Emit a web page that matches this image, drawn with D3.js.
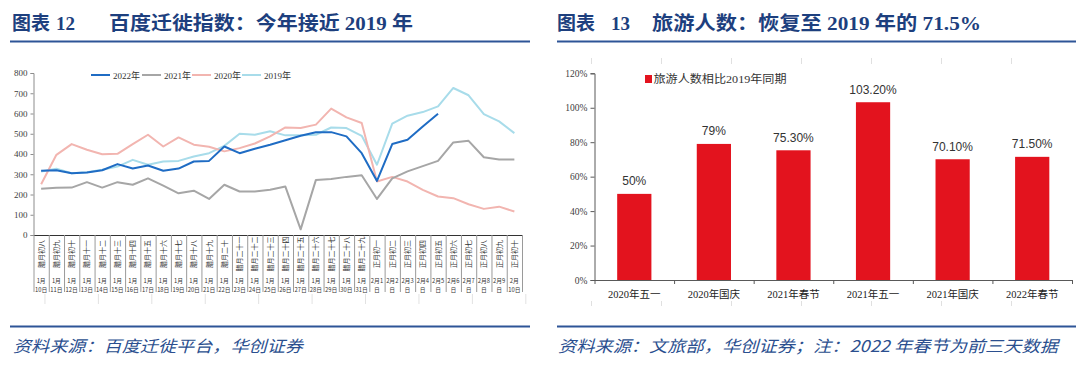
<!DOCTYPE html>
<html><head><meta charset="utf-8">
<script src="https://cdn.jsdelivr.net/npm/d3@7"></script>
<style>body{margin:0;background:#fff}svg{display:block}</style>
</head><body><svg id="c" width="1080" height="381"></svg>
<script>
// ---------- data: left chart ----------
const dates = ["1月10日","1月11日","1月12日","1月13日","1月14日","1月15日","1月16日","1月17日","1月18日","1月19日","1月20日","1月21日","1月22日","1月23日","1月24日","1月25日","1月26日","1月27日","1月28日","1月29日","1月30日","1月31日","2月1日","2月2日","2月3日","2月4日","2月5日","2月6日","2月7日","2月8日","2月9日","2月10日"];
const lunar = ["腊月初八","腊月初九","腊月初十","腊月十一","腊月十二","腊月十三","腊月十四","腊月十五","腊月十六","腊月十七","腊月十八","腊月十九","腊月二十","腊月二十一","腊月二十二","腊月二十三","腊月二十四","腊月二十五","腊月二十六","腊月二十七","腊月二十八","腊月二十九","正月初一","正月初二","正月初三","正月初四","正月初五","正月初六","正月初七","正月初八","正月初九","正月初十"];
const seriesNames = ["2022年","2021年","2020年","2019年"];
const v2022 = [317,320,305,309,320,350,328,343,317,328,363,366,437,404,426,446,468,490,507,508,487,404,267,449,470,536,599,null,null,null,null,null];
const v2021 = [228,233,234,261,234,261,248,280,244,206,219,178,248,215,215,223,239,28,272,276,287,295,178,280,314,340,366,457,465,384,373,373];
const v2020 = [251,396,449,421,399,401,449,495,437,482,446,436,413,429,452,487,531,528,545,624,581,553,264,287,264,223,190,182,152,129,140,116];
const v2019 = [314,327,305,310,322,338,371,347,363,366,388,404,440,500,495,512,492,492,495,531,528,490,347,550,589,607,635,726,690,597,561,503];
const yTicksL = [0,100,200,300,400,500,600,700,800];

// ---------- data: right chart ----------
const cats = ["2020年五一","2020年国庆","2021年春节","2021年五一","2021年国庆","2022年春节"];
const ratio = [0.50,0.79,0.753,1.032,0.701,0.715];
const ratioLabels = ["50%","79%","75.30%","103.20%","70.10%","71.50%"];
const yTicksR = [0,0.2,0.4,0.6,0.8,1.0,1.2];
const legendR = "旅游人数相比2019年同期";

const svg = d3.select("#c");
const serif = "'Liberation Serif','Noto Sans CJK SC',serif";
const cjk = "'Noto Sans CJK SC',sans-serif";
const navy = "#1d3f7e";

// ---------- titles & rules ----------
function title(x0, num, xNum, rest, xRest, restLen){
  const t = svg.append("text").attr("y",29.5).attr("fill",navy).attr("font-weight","bold").attr("font-family",serif).attr("font-size",19);
  t.append("tspan").attr("x",x0).text("图表");
  t.append("tspan").attr("x",xNum).text(num);
  t.append("tspan").attr("x",xRest).attr("textLength",restLen).attr("lengthAdjust","spacingAndGlyphs").text(rest);
}
title(12,"12",56,"百度迁徙指数：今年接近 2019 年",109,304);
title(557,"13",611,"旅游人数：恢复至 2019 年的 71.5%",652,329);
[[10,530],[557,1076]].forEach(([a,b])=>{
  svg.append("line").attr("x1",a).attr("x2",b).attr("y1",41.5).attr("y2",41.5).attr("stroke","#2e5597").attr("stroke-width",2);
  svg.append("line").attr("x1",a).attr("x2",b).attr("y1",326.5).attr("y2",326.5).attr("stroke","#2e5597").attr("stroke-width",2);
});
svg.append("text").attr("x",13).attr("y",352).attr("fill","#2b4f8f").attr("font-style","italic").attr("font-family",cjk).attr("font-size",16)
  .attr("textLength",290).attr("lengthAdjust","spacingAndGlyphs").text("资料来源：百度迁徙平台，华创证券");
svg.append("text").attr("x",558).attr("y",352).attr("fill","#2b4f8f").attr("font-style","italic").attr("font-family",cjk).attr("font-size",16)
  .attr("textLength",500).attr("lengthAdjust","spacingAndGlyphs").text("资料来源：文旅部，华创证券；注：2022 年春节为前三天数据");

// ---------- left line chart ----------
const L = {x0:33.5, x1:522, y0:235, y1:73};
const xL = d3.scaleBand().domain(d3.range(dates.length)).range([L.x0,L.x1]);
const xB = d3.scaleLinear().domain([0,dates.length]).range([L.x0,L.x1]);
const yL = d3.scaleLinear().domain([0,800]).range([L.y0,L.y1]);

const gyL = svg.append("g").attr("transform",`translate(${L.x0},0)`)
  .call(d3.axisLeft(yL).tickValues(yTicksL).tickSize(3).tickPadding(3).tickFormat(d3.format("d")));
gyL.select(".domain").attr("stroke","#8c8c8c");
gyL.selectAll(".tick line").attr("stroke","#8c8c8c");
gyL.selectAll("text").attr("font-family",serif).attr("font-size",9).attr("fill","#404040");

const gxL = svg.append("g").attr("transform",`translate(0,${L.y0})`)
  .call(d3.axisBottom(xB).tickValues(d3.range(dates.length+1)).tickSize(57).tickSizeOuter(0).tickFormat(""));
gxL.select(".domain").attr("stroke","#333").attr("stroke-width",1);
gxL.selectAll(".tick line").attr("stroke","#9a9a9a");

// faint second-level marks
svg.append("g").selectAll("line").data(d3.range(10)).join("line")
  .attr("x1",d=>xB(0.75+3.5*d)).attr("x2",d=>xB(0.75+3.5*d)).attr("y1",294).attr("y2",304)
  .attr("stroke","#e2e2e2");

const bw = xL.bandwidth();
const lab = svg.append("g").selectAll("g").data(dates).join("g")
  .attr("transform",(d,i)=>`translate(${xL(i)+bw/2},0)`);
lab.append("text").attr("transform","translate(2.5,254) rotate(-90)").attr("text-anchor","middle")
  .attr("font-family",cjk).attr("font-size",7).attr("fill","#333").text((d,i)=>lunar[i]);
lab.each(function(d){
  const m = d.match(/^(\d+月)(\d+)日$/);
  let l1, l2;
  if (m[1]==="1月" || m[2].length>1){ l1=m[1]; l2=m[2]+"日"; } else { l1=m[1]+m[2]; l2="日"; }
  const g = d3.select(this);
  g.append("text").attr("y",283).attr("text-anchor","middle").attr("font-family",cjk).attr("font-size",5.8).attr("fill","#333").text(l1);
  g.append("text").attr("y",291.6).attr("text-anchor","middle").attr("font-family",cjk).attr("font-size",5.8).attr("fill","#333").text(l2);
});

const seriesL = [
  {name:seriesNames[0], vals:v2022, color:"#1f6cc4"},
  {name:seriesNames[1], vals:v2021, color:"#a6a6a6"},
  {name:seriesNames[2], vals:v2020, color:"#f2b5b0"},
  {name:seriesNames[3], vals:v2019, color:"#a8dcea"}
];
const line = d3.line().defined(d=>d!=null).x((d,i)=>xL(i)+bw/2).y(d=>yL(d));
[3,2,1,0].forEach(k=>{
  svg.append("path").datum(seriesL[k].vals).attr("d",line).attr("fill","none")
    .attr("stroke",seriesL[k].color).attr("stroke-width",2).attr("stroke-linejoin","round");
});
const legX = [91,142,192,242];
seriesL.forEach((s,k)=>{
  svg.append("line").attr("x1",legX[k]).attr("x2",legX[k]+19).attr("y1",75).attr("y2",75).attr("stroke",s.color).attr("stroke-width",2);
  svg.append("text").attr("x",legX[k]+22).attr("y",78.5).attr("font-family",serif).attr("font-size",9).attr("fill","#333").text(s.name);
});

// ---------- right bar chart ----------
const R = {x0:594.5, x1:1072, y0:280, y1:73.3};
const xR = d3.scaleBand().domain(cats).range([R.x0,R.x1]).paddingInner(0.57).paddingOuter(0.285);
const yR = d3.scaleLinear().domain([0,1.2]).range([R.y0,R.y1]);

// faint frame marks
svg.append("g").selectAll("line").data(d3.range(7)).join("line")
  .attr("x1",d=>591.5+70*d).attr("x2",d=>591.5+70*d).attr("y1",58).attr("y2",64).attr("stroke","#e0e0e0");
svg.append("g").selectAll("line").data(d3.range(7)).join("line")
  .attr("x1",d=>591.5+70*d).attr("x2",d=>591.5+70*d).attr("y1",301).attr("y2",306).attr("stroke","#e0e0e0");

const gyR = svg.append("g").attr("transform",`translate(${R.x0},0)`)
  .call(d3.axisLeft(yR).tickValues(yTicksR).tickSize(4).tickPadding(3).tickFormat(d=>Math.round(d*100)+"%"));
gyR.select(".domain").attr("stroke","#595959");
gyR.selectAll(".tick line").attr("stroke","#595959");
gyR.selectAll("text").attr("font-family",serif).attr("font-size",9.5).attr("fill","#404040");

const xRB = d3.scaleLinear().domain([0,cats.length]).range([R.x0,R.x1]);
const gxR = svg.append("g").attr("transform",`translate(0,${R.y0})`)
  .call(d3.axisBottom(xRB).tickValues(d3.range(cats.length+1)).tickSize(4).tickSizeOuter(0).tickFormat(""));
gxR.select(".domain").attr("stroke","#595959");
gxR.selectAll(".tick line").attr("stroke","#595959");

svg.append("g").selectAll("rect").data(ratio).join("rect")
  .attr("x",(d,i)=>xR(cats[i])).attr("width",xR.bandwidth())
  .attr("y",d=>yR(d)).attr("height",d=>R.y0-yR(d)).attr("fill","#e3131e");
svg.append("g").selectAll("text").data(ratio).join("text")
  .attr("x",(d,i)=>xR(cats[i])+xR.bandwidth()/2).attr("y",d=>yR(d)-8.5).attr("text-anchor","middle")
  .attr("font-family","'Liberation Sans',sans-serif").attr("font-size",12).attr("fill","#333").text((d,i)=>ratioLabels[i]);
svg.append("g").selectAll("text").data(cats).join("text")
  .attr("x",d=>xR(d)+xR.bandwidth()/2).attr("y",298).attr("text-anchor","middle")
  .attr("font-family",serif).attr("font-size",10.5).attr("fill","#222").text(d=>d);

svg.append("rect").attr("x",645).attr("y",75).attr("width",7).attr("height",8).attr("fill","#e3131e");
svg.append("text").attr("x",653.5).attr("y",82.5).attr("font-family",serif).attr("font-size",11).attr("fill","#333")
  .attr("textLength",133).attr("lengthAdjust","spacingAndGlyphs").text(legendR);
</script></body></html>
